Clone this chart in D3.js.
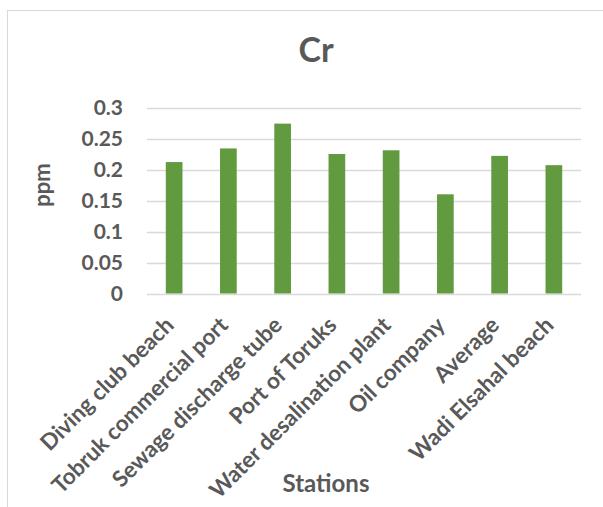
<!DOCTYPE html>
<html>
<head>
<meta charset="utf-8">
<script src="https://cdn.jsdelivr.net/npm/d3@7"></script>
<style>
  html, body { margin: 0; padding: 0; background: #fff; }
  svg { display: block; font-family: Lato, "Open Sans", sans-serif; }
</style>
</head>
<body>
<svg id="chart" width="603" height="507"></svg>
<script>
// Cr concentration (ppm) per sampling station
const stations = [
  "Diving club beach",
  "Tobruk commercial port",
  "Sewage discharge tube",
  "Port of Toruks",
  "Water desalination plant",
  "Oil company",
  "Average",
  "Wadi Elsahal beach"
];
const crValues = [0.212, 0.234, 0.274, 0.225, 0.231, 0.160, 0.222, 0.207];
const yTicks = [0, 0.05, 0.1, 0.15, 0.2, 0.25, 0.3];
const yTickLabels = ["0", "0.05", "0.1", "0.15", "0.2", "0.25", "0.3"];

const textColor = "#595959";
const gridColor = "#d9d9d9";
const barColor = "#629b3f";

const svg = d3.select("#chart");

// chart frame
svg.append("rect")
  .attr("x", 7.5).attr("y", 10.5)
  .attr("width", 640).attr("height", 520)
  .attr("fill", "#fff")
  .attr("stroke", gridColor)
  .attr("stroke-width", 1);

const plot = { left: 147, right: 581, top: 107.5, bottom: 293.5 };

const x = d3.scaleBand()
  .domain(stations)
  .range([plot.left, plot.right])
  .paddingInner(0.6923)
  .paddingOuter(0.3462);

const y = d3.scaleLinear()
  .domain([0, 0.3])
  .range([plot.bottom, plot.top]);

// gridlines
svg.append("g")
  .selectAll("line")
  .data(yTicks)
  .join("line")
  .attr("x1", plot.left).attr("x2", plot.right)
  .attr("y1", d => Math.round(y(d)) + 0.5)
  .attr("y2", d => Math.round(y(d)) + 0.5)
  .attr("stroke", gridColor)
  .attr("stroke-width", 1.3);

// y axis labels
const yAxis = d3.axisLeft(y)
  .tickValues(yTicks)
  .tickFormat((d, i) => yTickLabels[i])
  .tickSize(0)
  .tickPadding(0);
const yg = svg.append("g")
  .attr("transform", `translate(123,0)`)
  .call(yAxis);
yg.select(".domain").remove();
yg.selectAll("text")
  .attr("fill", textColor)
  .attr("font-family", "Lato, sans-serif")
  .attr("font-weight", "bold")
  .attr("font-size", 21);

// bars
svg.append("g")
  .selectAll("rect")
  .data(stations.map((s, i) => ({ s, v: crValues[i] })))
  .join("rect")
  .attr("x", d => x(d.s))
  .attr("width", x.bandwidth())
  .attr("y", d => y(d.v))
  .attr("height", d => y(0) - y(d.v))
  .attr("fill", barColor);

// x axis category labels, rotated
const xAxis = d3.axisBottom(x).tickSize(0).tickPadding(0);
const xg = svg.append("g")
  .attr("transform", `translate(0,${plot.bottom})`)
  .call(xAxis);
xg.select(".domain").remove();
xg.selectAll("text")
  .attr("fill", textColor)
  .attr("font-family", "Lato, sans-serif")
  .attr("font-weight", "bold")
  .attr("font-size", 22.5)
  .attr("text-anchor", "end")
  .attr("dy", null)
  .attr("y", null)
  .attr("transform", "translate(1,33) rotate(-45)");

// title
svg.append("text")
  .attr("x", 316).attr("y", 62)
  .attr("text-anchor", "middle")
  .attr("fill", textColor)
  .attr("font-weight", "bold")
  .attr("font-size", 34)
  .text("Cr");

// axis titles
svg.append("text")
  .attr("transform", "translate(50,185) rotate(-90)")
  .attr("text-anchor", "middle")
  .attr("fill", textColor)
  .attr("font-weight", "bold")
  .attr("font-size", 22)
  .text("ppm");

svg.append("text")
  .attr("x", 326).attr("y", 492)
  .attr("text-anchor", "middle")
  .attr("fill", textColor)
  .attr("font-weight", "bold")
  .attr("font-size", 24)
  .text("Stations");
</script>
</body>
</html>
